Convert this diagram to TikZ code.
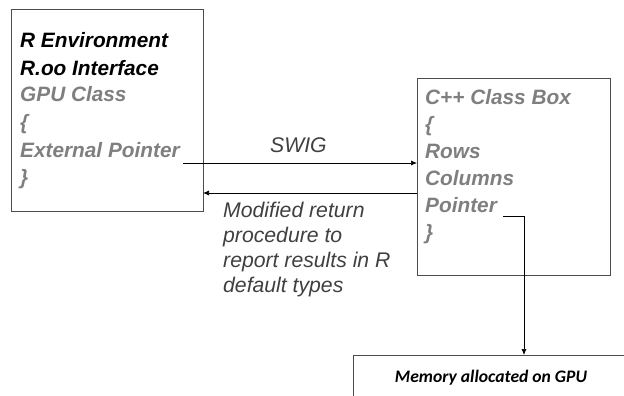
\documentclass[tikz,border=0pt]{standalone}
\usepackage{fontspec}
\setmainfont{Liberation Sans}
\newfontfamily\calib{Carlito}
\usetikzlibrary{arrows.meta}
\definecolor{txtgray}{HTML}{7F7F7F}
\definecolor{dgray}{HTML}{404040}
\begin{document}
\begin{tikzpicture}[x=1pt,y=-1pt,
  box/.style={draw=black!70,line width=0.8pt},
  lbl/.style={anchor=base west,inner sep=0pt,font=\fontsize{20.8}{24}\selectfont\bfseries\itshape},
  note/.style={anchor=base west,inner sep=0pt,font=\fontsize{21.2}{25}\selectfont\itshape,text=dgray},
  conn/.style={line width=0.7pt,-{Latex[length=6pt,width=5pt]}}]
\useasboundingbox (0,0) rectangle (624,396);
% boxes
\draw[box] (11,9) rectangle (203,211);
\draw[box] (417,78) rectangle (610,275);
\draw[box] (353,396) -- (353,355) -- (630,355);
% left text
\node[lbl] (re) at (20,48) {R Environment};
\node[lbl] (ro) at (20,75) {R.oo Interface};
\node[lbl,text=txtgray] (gc) at (20,102) {GPU Class};
\node[lbl,text=txtgray] (lb) at (20,129) {\{};
\node[lbl,text=txtgray] (ep) at (20,157) {External Pointer};
\node[lbl,text=txtgray] (rb) at (20,184) {\}};
% right text
\node[lbl,text=txtgray] (cc) at (425,104) {C++ Class Box};
\node[lbl,text=txtgray] (lb2) at (425,131) {\{};
\node[lbl,text=txtgray] (rows) at (425,158) {Rows};
\node[lbl,text=txtgray] (cols) at (425,185) {Columns};
\node[lbl,text=txtgray] (ptr) at (425,212) {Pointer};
\node[lbl,text=txtgray] (rb2) at (425,239) {\}};
% notes
\node[note] (swig) at (270,152) {SWIG};
\node[note,align=left,anchor=north west] (mod) at (223,202) {Modified return\\procedure to\\report results in R\\default types};
\node[anchor=base,inner sep=0pt,font=\calib\fontsize{17.6}{20}\selectfont\bfseries\itshape] (mem) at (491,382) {Memory allocated on GPU};
% connectors
\coordinate (a1) at (183,163);
\coordinate (a2) at (417,163);
\draw[conn] (a1) -- (a2);
\coordinate (b1) at (417,193);
\coordinate (b2) at (203,193);
\draw[conn] (b1) -- (b2);
\coordinate (c1) at (503,216);
\coordinate (c2) at (524,216);
\coordinate (c3) at (524,355);
\draw[conn] (c1) -- (c2) -- (c3);
\end{tikzpicture}
\end{document}
